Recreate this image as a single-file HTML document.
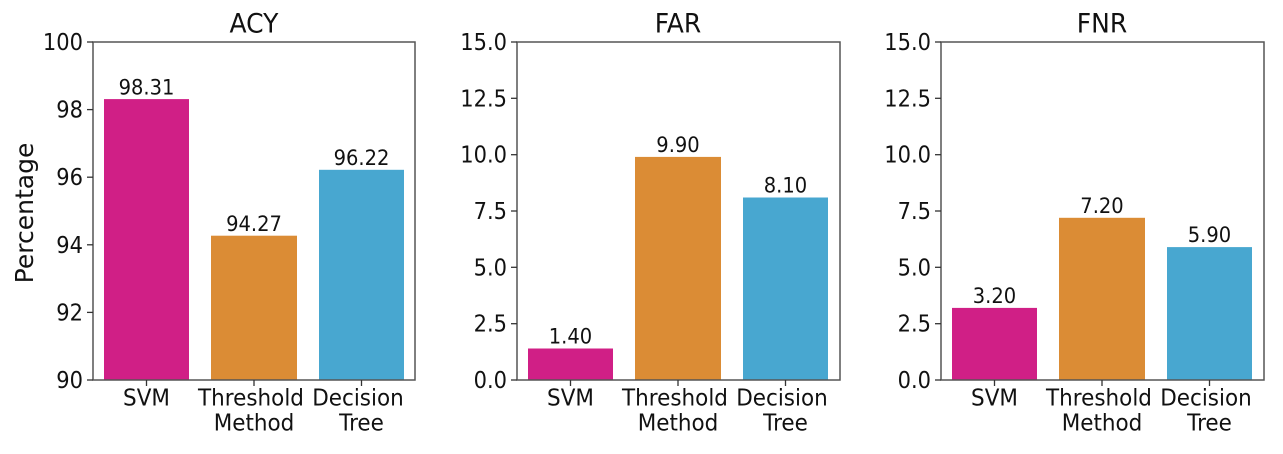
<!DOCTYPE html>
<html><head><meta charset="utf-8"><style>
html,body{margin:0;padding:0;background:#fff;}
svg{display:block;font-family:"DejaVu Sans","Liberation Sans",sans-serif;}
text:not(.yl){transform-box:fill-box;transform-origin:center;transform:scaleY(1.08);}
</style></head><body>
<svg width="1283" height="454" viewBox="0 0 1283 454" xmlns="http://www.w3.org/2000/svg">
<!-- Panel 1 -->
<g>
<rect x="104" y="99.1" width="85" height="280.9" fill="#d01f86"/>
<rect x="211" y="235.7" width="86" height="144.3" fill="#db8c35"/>
<rect x="319" y="169.8" width="85" height="210.2" fill="#48a7d0"/>
<rect x="93" y="42" width="322" height="338" fill="none" stroke="#555" stroke-width="1.5"/>
<g stroke="#333" stroke-width="1.3">
<line x1="87" x2="93" y1="380" y2="380"/><line x1="87" x2="93" y1="312.4" y2="312.4"/><line x1="87" x2="93" y1="244.8" y2="244.8"/><line x1="87" x2="93" y1="177.2" y2="177.2"/><line x1="87" x2="93" y1="109.6" y2="109.6"/><line x1="87" x2="93" y1="42" y2="42"/>
<line x1="146.5" x2="146.5" y1="380" y2="386"/><line x1="254" x2="254" y1="380" y2="386"/><line x1="361.5" x2="361.5" y1="380" y2="386"/>
</g>
<g font-size="21" text-anchor="end" fill="#111">
<text x="83" y="387.5">90</text><text x="83" y="319.9">92</text><text x="83" y="252.3">94</text><text x="83" y="184.7">96</text><text x="83" y="117.1">98</text><text x="83" y="49.5">100</text>
</g>
<g font-size="19.5" text-anchor="middle" fill="#111">
<text x="146.5" y="94">98.31</text><text x="254" y="230.5">94.27</text><text x="361.5" y="164.5">96.22</text>
</g>
<g font-size="21.5" text-anchor="middle" fill="#111">
<text x="146.5" y="405">SVM</text><text x="251" y="405">Threshold</text><text x="254" y="430">Method</text><text x="358" y="405">Decision</text><text x="361.5" y="430">Tree</text>
</g>
<text x="254" y="32" font-size="25" text-anchor="middle" fill="#111">ACY</text>
<text class="yl" transform="translate(33,213) rotate(-90)" font-size="25" text-anchor="middle" fill="#111">Percentage</text>
</g>
<!-- Panel 2 -->
<g transform="translate(424,0)">
<rect x="104" y="348.5" width="85" height="31.5" fill="#d01f86"/>
<rect x="211" y="156.9" width="86" height="223.1" fill="#db8c35"/>
<rect x="319" y="197.5" width="85" height="182.5" fill="#48a7d0"/>
<rect x="93" y="42" width="323" height="338" fill="none" stroke="#555" stroke-width="1.5"/>
<g stroke="#333" stroke-width="1.3">
<line x1="87" x2="93" y1="380" y2="380"/><line x1="87" x2="93" y1="323.7" y2="323.7"/><line x1="87" x2="93" y1="267.3" y2="267.3"/><line x1="87" x2="93" y1="211" y2="211"/><line x1="87" x2="93" y1="154.7" y2="154.7"/><line x1="87" x2="93" y1="98.3" y2="98.3"/><line x1="87" x2="93" y1="42" y2="42"/>
<line x1="146.5" x2="146.5" y1="380" y2="386"/><line x1="254" x2="254" y1="380" y2="386"/><line x1="361.5" x2="361.5" y1="380" y2="386"/>
</g>
<g font-size="21" text-anchor="end" fill="#111">
<text x="83" y="387.5">0.0</text><text x="83" y="331.2">2.5</text><text x="83" y="274.8">5.0</text><text x="83" y="218.5">7.5</text><text x="83" y="162.2">10.0</text><text x="83" y="105.8">12.5</text><text x="83" y="49.5">15.0</text>
</g>
<g font-size="19.5" text-anchor="middle" fill="#111">
<text x="146.5" y="343">1.40</text><text x="254" y="151.5">9.90</text><text x="361.5" y="192">8.10</text>
</g>
<g font-size="21.5" text-anchor="middle" fill="#111">
<text x="146.5" y="405">SVM</text><text x="251" y="405">Threshold</text><text x="254" y="430">Method</text><text x="358" y="405">Decision</text><text x="361.5" y="430">Tree</text>
</g>
<text x="254" y="32" font-size="25" text-anchor="middle" fill="#111">FAR</text>
</g>
<!-- Panel 3 -->
<g transform="translate(848,0)">
<rect x="104" y="307.9" width="85" height="72.1" fill="#d01f86"/>
<rect x="211" y="217.8" width="86" height="162.2" fill="#db8c35"/>
<rect x="319" y="247.1" width="85" height="132.9" fill="#48a7d0"/>
<rect x="93" y="42" width="323" height="338" fill="none" stroke="#555" stroke-width="1.5"/>
<g stroke="#333" stroke-width="1.3">
<line x1="87" x2="93" y1="380" y2="380"/><line x1="87" x2="93" y1="323.7" y2="323.7"/><line x1="87" x2="93" y1="267.3" y2="267.3"/><line x1="87" x2="93" y1="211" y2="211"/><line x1="87" x2="93" y1="154.7" y2="154.7"/><line x1="87" x2="93" y1="98.3" y2="98.3"/><line x1="87" x2="93" y1="42" y2="42"/>
<line x1="146.5" x2="146.5" y1="380" y2="386"/><line x1="254" x2="254" y1="380" y2="386"/><line x1="361.5" x2="361.5" y1="380" y2="386"/>
</g>
<g font-size="21" text-anchor="end" fill="#111">
<text x="83" y="387.5">0.0</text><text x="83" y="331.2">2.5</text><text x="83" y="274.8">5.0</text><text x="83" y="218.5">7.5</text><text x="83" y="162.2">10.0</text><text x="83" y="105.8">12.5</text><text x="83" y="49.5">15.0</text>
</g>
<g font-size="19.5" text-anchor="middle" fill="#111">
<text x="146.5" y="302.5">3.20</text><text x="254" y="212.5">7.20</text><text x="361.5" y="241.5">5.90</text>
</g>
<g font-size="21.5" text-anchor="middle" fill="#111">
<text x="146.5" y="405">SVM</text><text x="251" y="405">Threshold</text><text x="254" y="430">Method</text><text x="358" y="405">Decision</text><text x="361.5" y="430">Tree</text>
</g>
<text x="254" y="32" font-size="25" text-anchor="middle" fill="#111">FNR</text>
</g>
</svg>
</body></html>
